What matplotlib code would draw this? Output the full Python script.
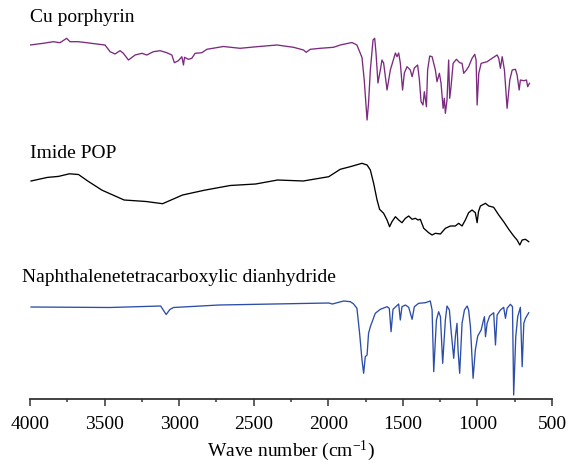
import matplotlib.pyplot as plt
from matplotlib.ticker import MultipleLocator

# FTIR spectra (wavenumber in cm-1, stacked transmittance in a.u.)
cu_wn = [4000, 3911, 3844, 3799, 3754, 3732, 3676, 3620, 3552, 3497, 3463, 3430, 3396, 3374,
         3340, 3295, 3250, 3217, 3173, 3128, 3083, 3049, 3032, 3005, 2982, 2971, 2964, 2938,
         2915, 2893, 2848, 2814, 2703, 2591, 2479, 2344, 2233, 2166, 2148, 2121, 2054, 1965,
         1920, 1841, 1808, 1774, 1759, 1740, 1730, 1718, 1700, 1689, 1680, 1667, 1651, 1640,
         1629, 1606, 1584, 1550, 1539, 1528, 1517, 1502, 1490, 1472, 1450, 1438, 1423, 1401,
         1389, 1378, 1365, 1356, 1342, 1334, 1320, 1304, 1282, 1271, 1255, 1244, 1230, 1222,
         1215, 1204, 1193, 1186, 1177, 1163, 1141, 1119, 1103, 1092, 1074, 1059, 1036, 1018,
         1009, 1002, 991, 975, 935, 902, 868, 857, 846, 834, 819, 801, 783, 767, 745, 734,
         720, 712, 689, 671, 663, 651]
cu_t = [354, 355.7, 357.3, 356.3, 360.7, 357.3, 357.3, 356.3, 355, 354, 347.3, 345, 348.3, 345.7,
        339, 344, 345.7, 344, 347.3, 348.3, 346.3, 344, 336.3, 338.3, 342.3, 334, 341.7, 339.7,
        340.7, 345.7, 346.3, 349.7, 352.5, 350.7, 352.3, 354, 351.7, 349, 346.7, 349.7, 350.7, 351.7,
        354, 356.5, 354, 341.5, 319, 279, 296, 329, 359, 360.7, 346, 316, 329, 339,
        336, 309, 329, 346, 342.3, 346, 336, 309, 326, 332.3, 329, 322.3, 331, 334,
        319, 297.3, 294, 307.3, 292.3, 329, 343, 342.3, 329, 317.3, 325.7, 315.7, 290.7, 300.7,
        285.7, 299, 339, 300.7, 312.3, 335.7, 339.7, 336.3, 335.7, 325.7, 329, 332.3, 340.7, 344.7,
        339, 294, 325.7, 335.7, 337.3, 340.7, 344, 340.7, 330.7, 342.3, 329, 290.7, 319, 329, 329.7, 324,
        309, 319, 318.3, 319, 312.3, 315.7]

pop_wn = [3993, 3883, 3809, 3736, 3675, 3613, 3517, 3369, 3222, 3111, 2977, 2830, 2658, 2487,
          2340, 2168, 1997, 1920, 1853, 1774, 1740, 1718, 1696, 1673, 1656, 1629, 1606, 1589,
          1573, 1550, 1528, 1506, 1483, 1461, 1438, 1416, 1398, 1383, 1360, 1327, 1304, 1282,
          1248, 1215, 1181, 1148, 1126, 1103, 1081, 1059, 1036, 1014, 1002, 993, 980, 946,
          924, 891, 857, 824, 790, 757, 734, 716, 700, 678, 656]
pop_t = [218, 221.6, 222.6, 225.2, 224.5, 218, 208.8, 199, 197.5, 195.3, 204, 208.8, 213.5, 215,
         219, 218, 222.3, 229.7, 232.3, 235.7, 234, 229, 215.7, 199, 189.7, 185.7, 179, 172.3,
         177.3, 182.3, 179, 176.3, 180.7, 183, 179.7, 180.7, 179, 179.7, 170.7, 166.3, 164, 165.7,
         165, 170.7, 173, 173, 175.7, 173, 179, 186.3, 189, 186.3, 176.3, 187.3, 193, 195.7,
         193, 191.7, 184, 177.3, 169.7, 163, 159, 154, 159, 159.7, 157.3]

ntcda_wn = [3993, 3466, 3124, 3087, 3062, 3038, 2732, 1997, 1973, 1897, 1852, 1830, 1808, 1790,
            1774, 1763, 1752, 1740, 1730, 1718, 1685, 1651, 1606, 1591, 1579, 1566, 1528, 1517,
            1506, 1483, 1461, 1438, 1423, 1394, 1349, 1316, 1304, 1293, 1275, 1260, 1248, 1233,
            1215, 1204, 1188, 1175, 1159, 1148, 1137, 1130, 1119, 1103, 1087, 1069, 1059, 1047,
            1029, 1014, 998, 975, 962, 953, 946, 935, 918, 891, 879, 868, 846, 824,
            812, 801, 779, 765, 757, 743, 730, 712, 700, 689, 678, 656]
ntcda_t = [92, 91.5, 93, 84.5, 89.5, 91.5, 94, 96, 95, 98, 97.3, 95, 90.7, 65.7,
           39, 25.7, 42.3, 44, 65.7, 72.3, 85.7, 89.7, 92.3, 90.7, 67.3, 89.7, 95, 79,
           92.3, 94, 91.7, 79.7, 92.3, 95.7, 96.3, 98, 89, 27.3, 79, 87.3, 82.3, 35.7,
           79, 93, 89, 65.7, 40.7, 62.3, 75.7, 49, 25.7, 75.7, 89, 93, 89, 72.3,
           20.7, 49, 63, 69, 77.3, 82.3, 62.3, 75.7, 83, 86.3, 54, 84, 89, 91.7,
           80.7, 90.7, 94.7, 92.3, 4, 62.3, 82.3, 91.7, 32.3, 75.7, 80.7, 86.3]

labels = ['Cu porphyrin', 'Imide POP', 'Naphthalenetetracarboxylic dianhydride']
colors = ['#7b2a80', '#000000', '#2c4ea8']

plt.rcParams['font.family'] = ['Liberation Serif', 'DejaVu Serif']
plt.rcParams['mathtext.default'] = 'regular'

fig = plt.figure(figsize=(5.69, 4.63), dpi=100)
ax = fig.add_axes([30 / 569, 64 / 463, 522 / 569, 399 / 463])

ax.plot(cu_wn, cu_t, color=colors[0], lw=0.95)
ax.plot(pop_wn, pop_t, color=colors[1], lw=0.95)
ax.plot(ntcda_wn, ntcda_t, color=colors[2], lw=0.95)

ax.text(4000, 381, labels[0], fontsize=14, va='center', ha='left')
ax.text(4000, 246, labels[1], fontsize=14, va='center', ha='left')
ax.text(4054, 121, labels[2], fontsize=14, va='center', ha='left', clip_on=False)

ax.set_xlim(4000, 500)
ax.set_ylim(0, 399)
ax.set_xticks([4000, 3500, 3000, 2500, 2000, 1500, 1000, 500])
ax.xaxis.set_minor_locator(MultipleLocator(250))
ax.set_yticks([])
for s in ['top', 'left', 'right']:
    ax.spines[s].set_visible(False)
ax.spines['bottom'].set_color('#333333')
ax.spines['bottom'].set_linewidth(1.3)
ax.tick_params(axis='x', which='major', length=5.2, width=1.1, color='#333333',
               labelsize=14, pad=7)
ax.tick_params(axis='x', which='minor', length=2.5, width=1.1, color='#333333')
ax.set_xlabel('Wave number (cm$^{\u2212 1}$)', fontsize=14, labelpad=4)

fig.savefig('out.png', dpi=100)
